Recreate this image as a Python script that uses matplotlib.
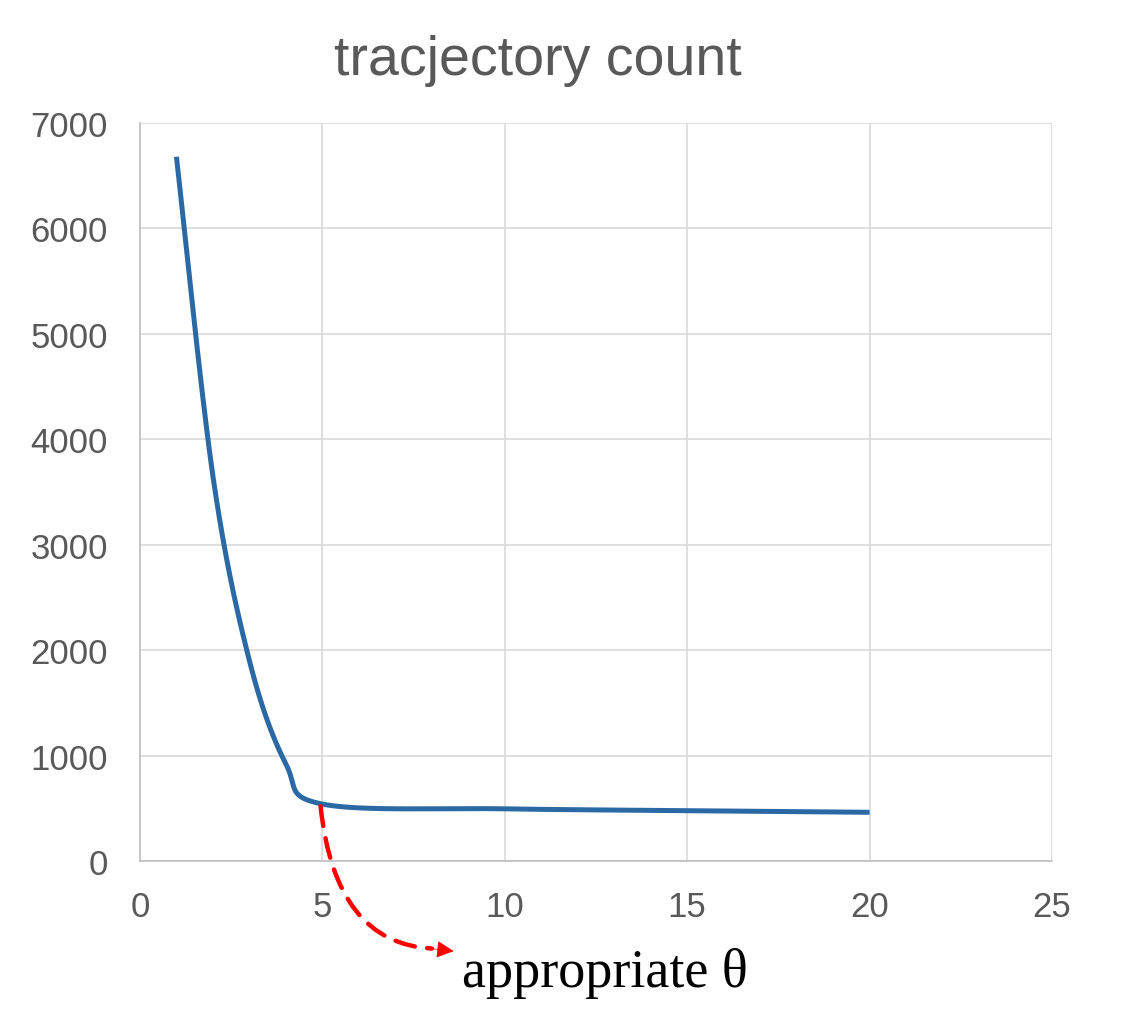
import numpy as np
import matplotlib.pyplot as plt

# values
theta = [1, 2, 3, 4, 5, 10, 15, 20]
counts = [6680, 3650, 1900, 920, 540, 495, 478, 462]
x_ticks = [0, 5, 10, 15, 20, 25]
y_ticks = [0, 1000, 2000, 3000, 4000, 5000, 6000, 7000]

TEXT = "#595959"
GRID = "#d9d9d9"
LINE = "#2b69a5"


def smooth(xs, ys, n=60):
    # excel style smoothed line: cubic bezier with catmull-rom control points
    p = np.column_stack([xs, ys]).astype(float)
    out = []
    for i in range(len(p) - 1):
        p0 = p[max(i - 1, 0)]
        p1 = p[i]
        p2 = p[i + 1]
        p3 = p[min(i + 2, len(p) - 1)]
        c1 = p1 + (p2 - p0) / 6.0
        c2 = p2 - (p3 - p1) / 6.0
        t = np.linspace(0, 1, n)[:, None]
        seg = ((1 - t) ** 3) * p1 + 3 * ((1 - t) ** 2) * t * c1 + 3 * (1 - t) * t ** 2 * c2 + t ** 3 * p2
        out.append(seg if i == 0 else seg[1:])
    out = np.vstack(out)
    return out[:, 0], out[:, 1]


plt.rcParams['font.family'] = ['Liberation Sans', 'DejaVu Sans']

fig = plt.figure(figsize=(11.26, 10.20), dpi=100)
ax = fig.add_axes([0.1243, 0.1549, 0.8100, 0.7235])

sx, sy = smooth(theta, counts)
ax.plot(sx, sy, color=LINE, lw=3.6, solid_capstyle='butt', zorder=3)

ax.set_xlim(0, 25)
ax.set_ylim(0, 7000)
ax.set_xticks(x_ticks)
ax.set_yticks(y_ticks)
ax.tick_params(length=0, labelsize=25, labelcolor=TEXT)
ax.tick_params(axis='y', pad=23)
ax.tick_params(axis='x', pad=21)
ax.grid(True, color=GRID, lw=1.2)
ax.set_axisbelow(True)
for side in ['top', 'right']:
    ax.spines[side].set_visible(False)
for side in ['left', 'bottom']:
    ax.spines[side].set_color("#bfbfbf")
    ax.spines[side].set_linewidth(1.2)

fig.text(0.478, 1 - 75 / 1020, "tracjectory count", ha='center', va='baseline',
         fontsize=40, color=TEXT)

# red dashed arrow pointing at the chosen theta
ax.annotate('', xy=(8.0, -830), xytext=(4.95, 520),
            arrowprops=dict(arrowstyle='-', ls=(0, (4.5, 2.8)), lw=3.2, color='red',
                            connectionstyle='angle3,angleA=-84,angleB=-3',
                            shrinkA=0, shrinkB=0),
            annotation_clip=False)
ax.annotate('', xy=(8.6, -855), xytext=(7.9, -828),
            arrowprops=dict(arrowstyle='-|>,head_length=1.1,head_width=0.55',
                            lw=0.5, color='red', shrinkA=0, shrinkB=0),
            annotation_clip=False)

fig.text(605 / 1126, 1 - 987 / 1020, "appropriate θ", ha='center', va='baseline',
         fontsize=39, family=['Liberation Serif', 'DejaVu Serif'], color='black')

fig.savefig('out.png', dpi=100)
